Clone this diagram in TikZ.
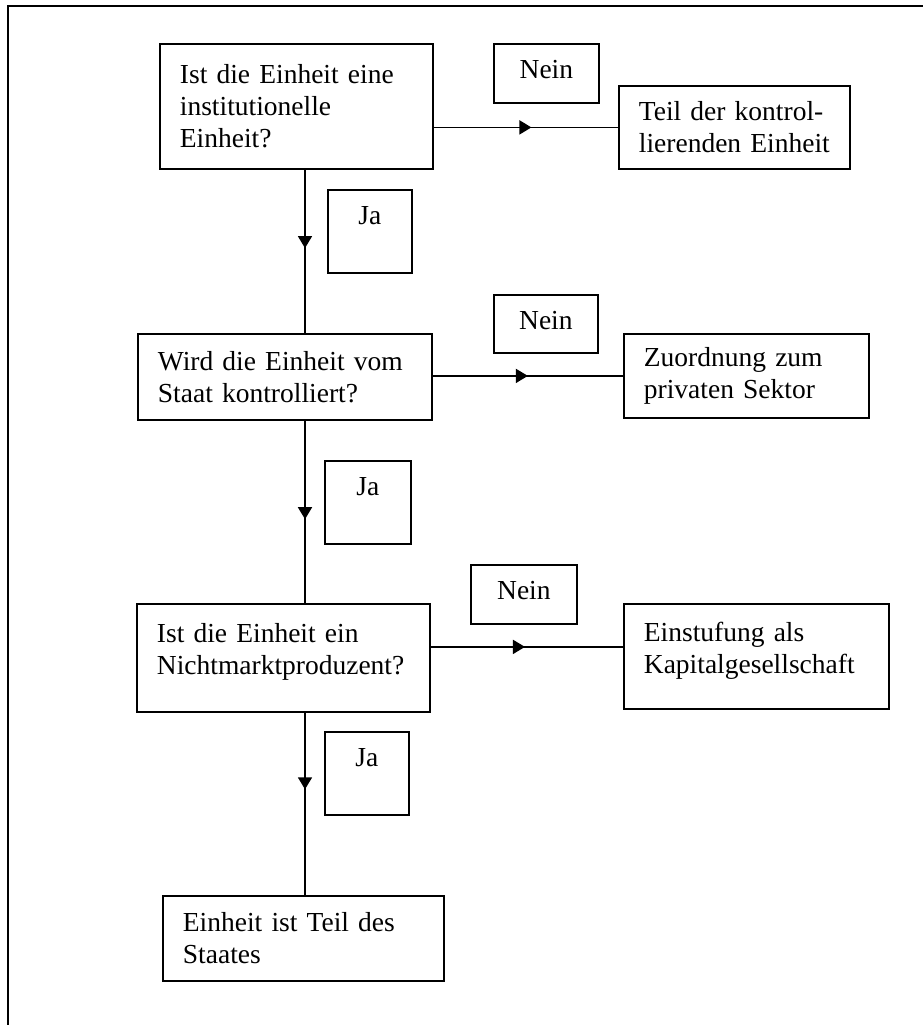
\documentclass[tikz,border=0pt]{standalone}
\usepackage{fontspec}
\setmainfont{Liberation Serif}
\usetikzlibrary{calc, arrows.meta, decorations.markings}
\tikzset{
    kasten/.style={draw, line width=1.8pt, align=left, inner xsep=20pt, inner ysep=0pt, anchor=north west},
    marke/.style={draw, line width=1.8pt, inner sep=0pt, text height=35pt, anchor=north west},
    fluss/.style={line width=1.6pt, postaction={decorate},
        decoration={markings, mark=at position #1 with {\arrow{Triangle[width=14pt,length=12pt]}}}}
}

\begin{document}
\begin{tikzpicture}[x=1pt, y=-1pt, font=\fontsize{27.5}{32}\selectfont]

\useasboundingbox (0,0) rectangle (923,1025);

% Rahmen
\draw[line width=1.8pt] (8,1025) -- (8,6) -- (923,6);

% Achse der senkrechten Pfeile
\coordinate (achse) at (305,0);

% Fragen
\node[kasten, text width=233pt, minimum height=125pt] (f1) at (159,43) {Ist die Einheit eine\\institutionelle\\Einheit?};
\node[kasten, text width=254pt, minimum height=86pt] (f2) at (137,333) {Wird die Einheit vom\\Staat kontrolliert?};
\node[kasten, text width=253pt, minimum height=108pt] (f3) at (136,603) {Ist die Einheit ein\\Nichtmarktproduzent?\\[-15pt]\mbox{}};
\node[kasten, text width=241pt, minimum height=85pt] (f4) at (162,895) {Einheit ist Teil des\\Staates};

% Ergebnisse
\node[kasten, text width=191pt, minimum height=83pt] (r1) at (618,85) {Teil der kontrol-\\lierenden Einheit};
\node[kasten, text width=205pt, minimum height=84pt] (r2) at (623,333) {Zuordnung zum\\privaten Sektor};
\node[kasten, text width=225pt, minimum height=105pt] (r3) at (623,603) {Einstufung als\\Kapitalgesellschaft\\[-15pt]\mbox{}};

% Nein / Ja
\node[marke, minimum width=105pt, text depth=24pt] (n1) at (493,43) {Nein};
\node[marke, minimum width=104pt, text depth=23pt] (n2) at (493,294) {Nein};
\node[marke, minimum width=106pt, text depth=24pt] (n3) at (470,564) {Nein};
\node[marke, minimum width=84pt, text depth=48pt] (j1) at (327,189) {Ja};
\node[marke, minimum width=86pt, text depth=48pt] (j2) at (324,460) {Ja};
\node[marke, minimum width=84pt, text depth=48pt] (j3) at (324,731) {Ja};

% Pfeile
\draw[fluss=0.48] (f1.south -| achse) -- (f2.north -| achse);
\draw[fluss=0.54] (f2.south -| achse) -- (f3.north -| achse);
\draw[fluss=0.42] (f3.south -| achse) -- (f4.north -| achse);
\draw[fluss=0.53] (f1.east |- r1.west) -- (r1.west);
\draw[fluss=0.5] (f2.east |- r2.west) -- (r2.west);
\draw[fluss=0.49] ($(f3.east)+(0,-11)$) coordinate (z3) -- (z3 -| r3.west);

\end{tikzpicture}
\end{document}
